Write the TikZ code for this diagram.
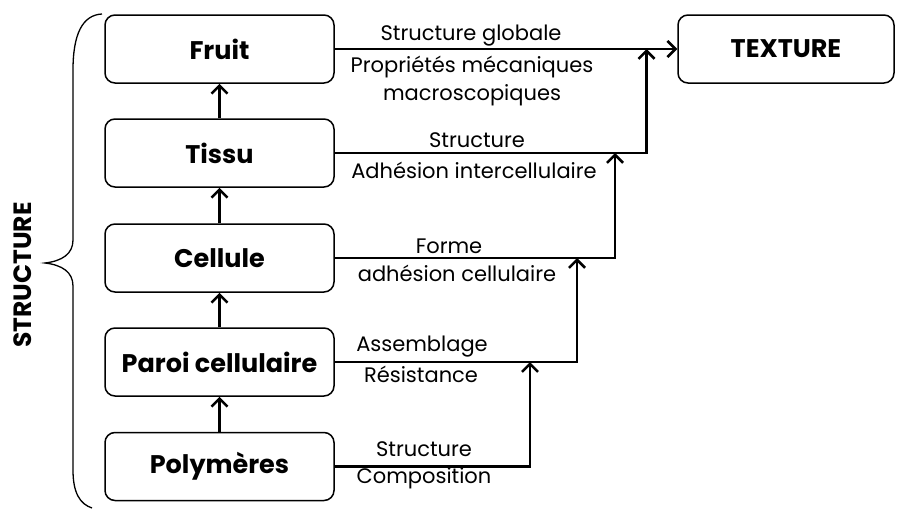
\documentclass[tikz,border=0pt]{standalone}
\usepackage{fontspec}
\setmainfont{Poppins}
\usetikzlibrary{arrows.meta}
\tikzset{
  box/.style={draw, line width=1.5pt, rounded corners=10pt, minimum width=229pt, minimum height=68pt, inner sep=0pt, font=\fontsize{25.5}{28}\selectfont\bfseries},
  conn/.style={line width=2.6pt},
  tipped/.style={conn, -{Straight Barb[length=8pt,width=16pt,line width=2.6pt]}},
  lbl/.style={inner sep=0pt, font=\fontsize{21}{24}\selectfont}
}
\begin{document}
\begin{tikzpicture}[x=1pt,y=-1pt]
\useasboundingbox (0,0) rectangle (897,509);
% boxes
\node[box] (fruit) at (219.5,49) {Fruit};
\node[box] (tissu) at (219.5,153) {Tissu};
\node[box] (cell) at (219.5,258) {Cellule};
\node[box] (paroi) at (219.5,362) {Paroi cellulaire};
\node[box] (poly) at (219.5,466.5) {Polymères};
\node[box, minimum width=216pt] (tex) at (786,49) {TEXTURE};
% vertical arrows between boxes
\draw[tipped] (tissu) -- (fruit);
\draw[tipped] (cell) -- (tissu);
\draw[tipped] (paroi) -- (cell);
\draw[tipped] (poly) -- (paroi);
% junctions
\coordinate (j1) at (646.5,49);
\coordinate (j2) at (615,153);
\coordinate (j3) at (577,258);
\coordinate (j4) at (530,362);
\draw[tipped] (fruit.east) -- (tex.west);
\draw[tipped] (tissu.east) -| (j1);
\draw[tipped] (cell.east) -| (j2);
\draw[tipped] (paroi.east) -| (j3);
\draw[tipped] (poly.east) -| (j4);
% labels
\node[lbl] (la1) at (471,36) {Structure globale};
\node[lbl] (la2) at (472,67) {Propriétés mécaniques};
\node[lbl] (la3) at (472,95) {macroscopiques};
\node[lbl] (lb1) at (477,140) {Structure};
\node[lbl] (lb2) at (474,170) {Adhésion intercellulaire};
\node[lbl] (lc1) at (449,246) {Forme};
\node[lbl] (lc2) at (457,273) {adhésion cellulaire};
\node[lbl] (ld1) at (422,347) {Assemblage};
\node[lbl] (ld2) at (421,374) {Résistance};
\node[lbl] (le1) at (424,449) {Structure};
\node[lbl] (le2) at (424,478) {Composition};
% brace
\draw[line width=1.3pt] (102,14) .. controls (82,15) and (73,35) .. (73,70) -- (73,240) .. controls (73,254) and (62,261) .. (45,263) .. controls (62,265) and (73,272) .. (73,286) -- (73,470) .. controls (73,493) and (80,504) .. (92,508);
\node[rotate=90, font=\fontsize{25}{28}\selectfont\bfseries] (st) at (23,275) {STRUCTURE};
\end{tikzpicture}
\end{document}
